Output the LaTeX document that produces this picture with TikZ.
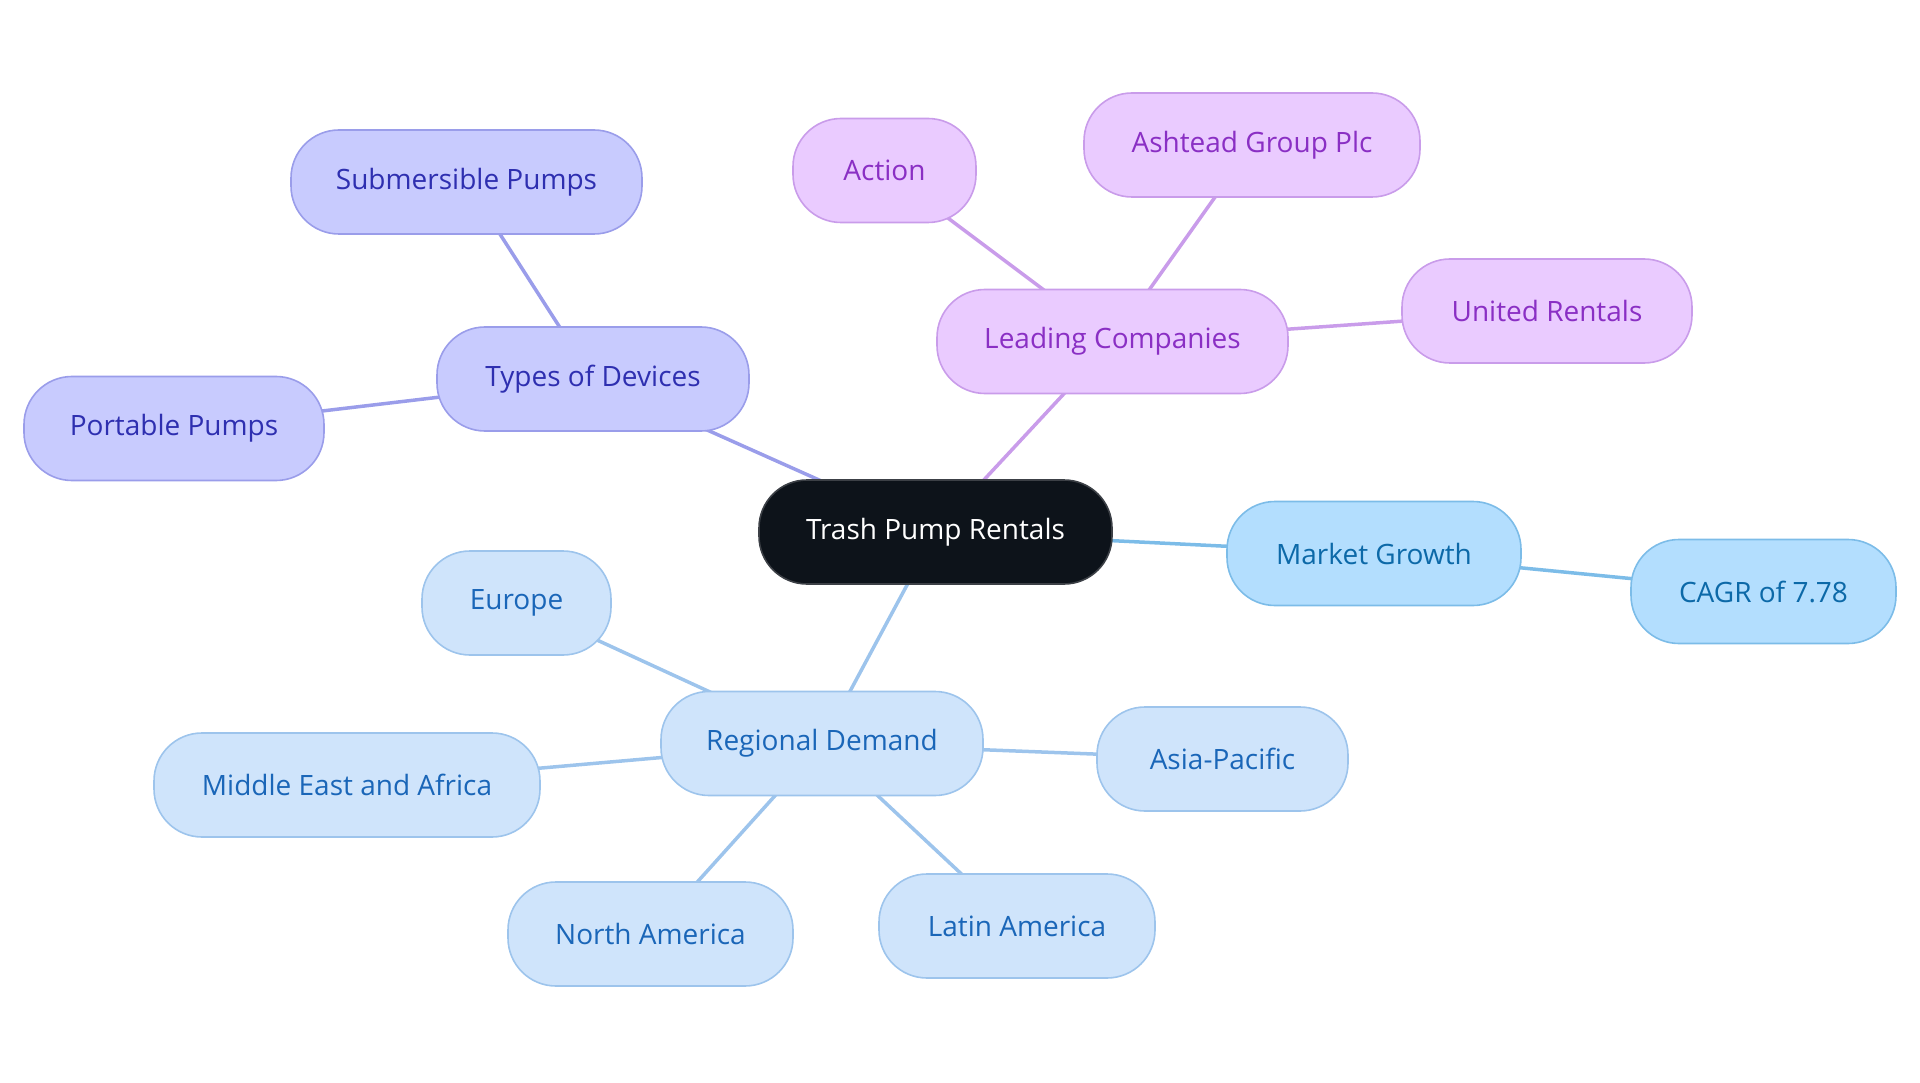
\documentclass[tikz,border=0pt]{standalone}
\usepackage{fontspec}
\setmainfont{Open Sans}
\usetikzlibrary{backgrounds}
\definecolor{cdark}{HTML}{0D131A}
\definecolor{cdarkb}{HTML}{3C4046}
\definecolor{pfill}{HTML}{C8CBFE}
\definecolor{pline}{HTML}{9A9DEA}
\definecolor{ptext}{HTML}{2E2FB0}
\definecolor{lfill}{HTML}{EACBFF}
\definecolor{lline}{HTML}{C99CEA}
\definecolor{ltext}{HTML}{8A2FC4}
\definecolor{mfill}{HTML}{B3DEFE}
\definecolor{mline}{HTML}{7CBCE8}
\definecolor{mtext}{HTML}{0C69A8}
\definecolor{rfill}{HTML}{CFE4FB}
\definecolor{rline}{HTML}{9DC4EC}
\definecolor{rtext}{HTML}{1A66B8}
\tikzset{
  box/.style={rounded corners=48pt, minimum height=104pt, inner sep=0pt, line width=1.6pt,
    font=\fontsize{28}{32}\selectfont, align=center},
  root/.style={box, fill=cdark, draw=cdarkb, text=white},
  pbox/.style={box, fill=pfill, draw=pline, text=ptext},
  lbox/.style={box, fill=lfill, draw=lline, text=ltext},
  mbox/.style={box, fill=mfill, draw=mline, text=mtext},
  rbox/.style={box, fill=rfill, draw=rline, text=rtext},
  pedge/.style={draw=pline, line width=3.5pt},
  ledge/.style={draw=lline, line width=3.5pt},
  medge/.style={draw=mline, line width=3.5pt},
  redge/.style={draw=rline, line width=3.5pt},
}
\begin{document}
\begin{tikzpicture}[x=1pt,y=-1pt]
\useasboundingbox (0,0) rectangle (1920,1083);
\node[root, minimum width=353pt] (root) at (935.5,532) {Trash Pump Rentals};
\node[pbox, minimum width=312pt] (types) at (593,379) {Types of Devices};
\node[pbox, minimum width=351pt] (sub) at (466.5,182) {Submersible Pumps};
\node[pbox, minimum width=300pt] (port) at (174,428.5) {Portable Pumps};
\node[lbox, minimum width=351pt] (lead) at (1112.5,341.5) {Leading Companies};
\node[lbox, minimum width=183pt] (action) at (884.5,170.5) {Action};
\node[lbox, minimum width=336pt] (ash) at (1252,145) {Ashtead Group Plc};
\node[lbox, minimum width=290pt] (united) at (1547,311) {United Rentals};
\node[mbox, minimum width=294pt] (market) at (1374,553.5) {Market Growth};
\node[mbox, minimum width=265pt] (cagr) at (1763.5,591.5) {CAGR of 7.78};
\node[rbox, minimum width=322pt] (region) at (822,743.5) {Regional Demand};
\node[rbox, minimum width=189pt] (europe) at (516.5,603) {Europe};
\node[rbox, minimum width=386pt] (mea) at (347,785) {Middle East and Africa};
\node[rbox, minimum width=251pt] (asia) at (1222.5,759) {Asia-Pacific};
\node[rbox, minimum width=285pt] (na) at (650.5,934) {North America};
\node[rbox, minimum width=276pt] (latin) at (1017,926) {Latin America};
\begin{scope}[on background layer]
\draw[pedge] (root.center) -- (types.center);
\draw[pedge] (types.center) -- (sub.center);
\draw[pedge] (types.center) -- (port.center);
\draw[ledge] (root.center) -- (lead.center);
\draw[ledge] (lead.center) -- (action.center);
\draw[ledge] (lead.center) -- (ash.center);
\draw[ledge] (lead.center) -- (united.center);
\draw[medge] (root.center) -- (market.center);
\draw[medge] (market.center) -- (cagr.center);
\draw[redge] (root.center) -- (region.center);
\draw[redge] (region.center) -- (europe.center);
\draw[redge] (region.center) -- (mea.center);
\draw[redge] (region.center) -- (asia.center);
\draw[redge] (region.center) -- (na.center);
\draw[redge] (region.center) -- (latin.center);
\end{scope}
\end{tikzpicture}
\end{document}
